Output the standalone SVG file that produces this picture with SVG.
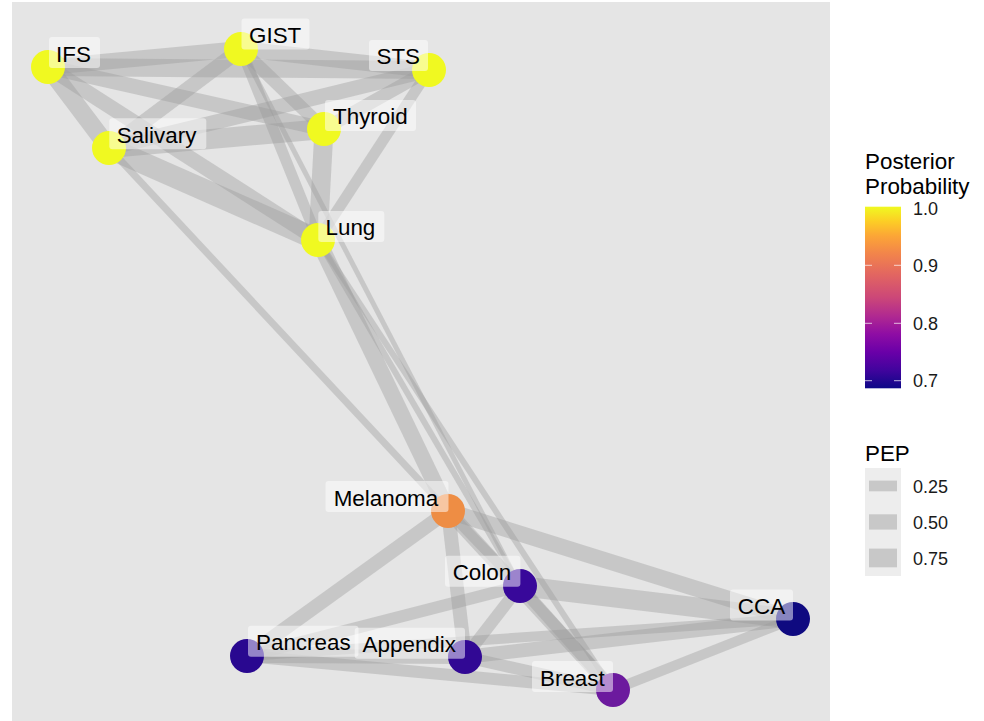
<svg xmlns="http://www.w3.org/2000/svg" width="984" height="721" viewBox="0 0 984 721">
<style>
.e{stroke:#9a9a9a;stroke-opacity:0.4;stroke-linecap:butt;fill:none}
.n{stroke:none}
.lb{fill:#ffffff;fill-opacity:0.5;stroke:none}
.lt{font-family:"Liberation Sans",Arial,Helvetica,sans-serif;font-size:22.4px;fill:#000}
.tt{font-family:"Liberation Sans",Arial,Helvetica,sans-serif;font-size:22.4px;fill:#000}
.tk{font-family:"Liberation Sans",Arial,Helvetica,sans-serif;font-size:18px;fill:#1a1a1a}
.tm{stroke:#ffffff;stroke-opacity:0.7;stroke-width:1}
.kb{fill:#c8c8c8}
</style>
<defs>
<linearGradient id="plasma" x1="0" y1="1" x2="0" y2="0">
<stop offset="0" stop-color="#0D0887"/>
<stop offset="0.1" stop-color="#41049D"/>
<stop offset="0.2" stop-color="#6A00A8"/>
<stop offset="0.3" stop-color="#8F0DA4"/>
<stop offset="0.4" stop-color="#B12A90"/>
<stop offset="0.5" stop-color="#CC4778"/>
<stop offset="0.62" stop-color="#E16462"/>
<stop offset="0.74" stop-color="#F2844B"/>
<stop offset="0.84" stop-color="#FCA636"/>
<stop offset="0.92" stop-color="#FCCE25"/>
<stop offset="1" stop-color="#F0F921"/>
</linearGradient>
</defs>
<rect x="0" y="0" width="984" height="721" fill="#ffffff"/>
<rect x="12" y="2" width="818" height="719" fill="#e5e5e5"/>
<g id="edges">
<line class="e" x1="48" y1="67" x2="241" y2="49" stroke-width="16"/>
<line class="e" x1="48" y1="67" x2="429" y2="70" stroke-width="18"/>
<line class="e" x1="48" y1="67" x2="324" y2="129" stroke-width="15"/>
<line class="e" x1="48" y1="67" x2="109" y2="148" stroke-width="18"/>
<line class="e" x1="48" y1="67" x2="318" y2="240" stroke-width="15"/>
<line class="e" x1="241" y1="49" x2="429" y2="70" stroke-width="16"/>
<line class="e" x1="241" y1="49" x2="324" y2="129" stroke-width="13"/>
<line class="e" x1="241" y1="49" x2="109" y2="148" stroke-width="15"/>
<line class="e" x1="241" y1="49" x2="318" y2="240" stroke-width="11"/>
<line class="e" x1="429" y1="70" x2="324" y2="129" stroke-width="13"/>
<line class="e" x1="429" y1="70" x2="109" y2="148" stroke-width="15"/>
<line class="e" x1="429" y1="70" x2="318" y2="240" stroke-width="11"/>
<line class="e" x1="324" y1="129" x2="109" y2="148" stroke-width="20"/>
<line class="e" x1="324" y1="129" x2="318" y2="240" stroke-width="19"/>
<line class="e" x1="109" y1="148" x2="318" y2="240" stroke-width="22"/>
<line class="e" x1="109" y1="148" x2="448" y2="511" stroke-width="7"/>
<line class="e" x1="318" y1="240" x2="448" y2="511" stroke-width="16"/>
<line class="e" x1="318" y1="240" x2="520" y2="586" stroke-width="6"/>
<line class="e" x1="241" y1="49" x2="520" y2="586" stroke-width="5"/>
<line class="e" x1="318" y1="240" x2="613" y2="690" stroke-width="6"/>
<line class="e" x1="448" y1="511" x2="247" y2="656" stroke-width="14"/>
<line class="e" x1="448" y1="511" x2="465" y2="657" stroke-width="14"/>
<line class="e" x1="448" y1="511" x2="520" y2="586" stroke-width="10"/>
<line class="e" x1="448" y1="511" x2="613" y2="690" stroke-width="14"/>
<line class="e" x1="448" y1="511" x2="793" y2="619" stroke-width="16"/>
<line class="e" x1="520" y1="586" x2="793" y2="619" stroke-width="20"/>
<line class="e" x1="520" y1="586" x2="247" y2="656" stroke-width="12"/>
<line class="e" x1="520" y1="586" x2="465" y2="657" stroke-width="12"/>
<line class="e" x1="520" y1="586" x2="613" y2="690" stroke-width="12"/>
<line class="e" x1="247" y1="656" x2="465" y2="657" stroke-width="14"/>
<line class="e" x1="247" y1="656" x2="613" y2="690" stroke-width="12"/>
<line class="e" x1="247" y1="656" x2="793" y2="619" stroke-width="10"/>
<line class="e" x1="465" y1="657" x2="793" y2="619" stroke-width="14"/>
<line class="e" x1="465" y1="657" x2="613" y2="690" stroke-width="12"/>
<line class="e" x1="613" y1="690" x2="793" y2="619" stroke-width="10"/>
</g>
<g id="node-IFS"><circle class="n" cx="48" cy="67" r="17" fill="#F0F921"/><rect class="lb" x="49" y="37" width="51" height="31" rx="3"/><text class="lt" x="56" y="61.5">IFS</text></g>
<g id="node-GIST"><circle class="n" cx="241" cy="49" r="17" fill="#F0F921"/><rect class="lb" x="241.5" y="18.5" width="68" height="31" rx="3"/><text class="lt" x="249" y="43.3">GIST</text></g>
<g id="node-STS"><circle class="n" cx="429" cy="70" r="17" fill="#F0F921"/><rect class="lb" x="369" y="40" width="59" height="31" rx="3"/><text class="lt" x="376.5" y="64.3">STS</text></g>
<g id="node-Thyroid"><circle class="n" cx="324" cy="129" r="17" fill="#F0F921"/><rect class="lb" x="325" y="100" width="91" height="31" rx="3"/><text class="lt" x="333" y="124">Thyroid</text></g>
<g id="node-Salivary"><circle class="n" cx="109" cy="148" r="17" fill="#F0F921"/><rect class="lb" x="109.3" y="118.3" width="97" height="31" rx="3"/><text class="lt" x="116.7" y="142.7">Salivary</text></g>
<g id="node-Lung"><circle class="n" cx="318" cy="240" r="17" fill="#F0F921"/><rect class="lb" x="318.3" y="211" width="66" height="31" rx="3"/><text class="lt" x="325.5" y="235">Lung</text></g>
<g id="node-Melanoma"><circle class="n" cx="448" cy="511" r="17" fill="#EE8D44"/><rect class="lb" x="325.5" y="481" width="123" height="31" rx="3"/><text class="lt" x="333.7" y="505.7">Melanoma</text></g>
<g id="node-Colon"><circle class="n" cx="520" cy="586" r="17" fill="#38089A"/><rect class="lb" x="445" y="555.7" width="75.4" height="31" rx="3"/><text class="lt" x="452.7" y="580">Colon</text></g>
<g id="node-CCA"><circle class="n" cx="793" cy="619" r="17" fill="#0F0A80"/><rect class="lb" x="730" y="589.5" width="63" height="31" rx="3"/><text class="lt" x="737.8" y="614">CCA</text></g>
<g id="node-Pancreas"><circle class="n" cx="247" cy="656" r="17" fill="#290890"/><rect class="lb" x="248" y="625.7" width="110.5" height="31" rx="3"/><text class="lt" x="256" y="650">Pancreas</text></g>
<g id="node-Appendix"><circle class="n" cx="465" cy="657" r="17" fill="#310894"/><rect class="lb" x="354.7" y="627.7" width="110.3" height="31" rx="3"/><text class="lt" x="362.6" y="652.2">Appendix</text></g>
<g id="node-Breast"><circle class="n" cx="613" cy="690" r="17" fill="#6C1A9E"/><rect class="lb" x="532" y="661" width="81" height="31" rx="3"/><text class="lt" x="540" y="686">Breast</text></g>
<g id="legend-posterior">
<text class="tt" x="865" y="169">Posterior</text>
<text class="tt" x="865" y="193.5">Probability</text>
<rect x="865" y="206.7" width="36" height="181.6" fill="url(#plasma)"/>
<line class="tm" x1="865" y1="265.3" x2="872" y2="265.3"/><line class="tm" x1="894" y1="265.3" x2="901" y2="265.3"/>
<line class="tm" x1="865" y1="323.3" x2="872" y2="323.3"/><line class="tm" x1="894" y1="323.3" x2="901" y2="323.3"/>
<line class="tm" x1="865" y1="380.7" x2="872" y2="380.7"/><line class="tm" x1="894" y1="380.7" x2="901" y2="380.7"/>
<text class="tk" x="913" y="214.5">1.0</text>
<text class="tk" x="913" y="271.8">0.9</text>
<text class="tk" x="913" y="329.8">0.8</text>
<text class="tk" x="913" y="387.2">0.7</text>
</g>
<g id="legend-pep">
<text class="tt" x="865" y="460.5">PEP</text>
<rect x="865" y="468" width="36" height="108" fill="#ededed"/>
<rect class="kb" x="869" y="480.6" width="28" height="10.7"/>
<rect class="kb" x="869" y="514.3" width="28" height="15.3"/>
<rect class="kb" x="869" y="548.6" width="28" height="18.7"/>
<text class="tk" x="913" y="492.5">0.25</text>
<text class="tk" x="913" y="528.5">0.50</text>
<text class="tk" x="913" y="564.5">0.75</text>
</g>
</svg>
